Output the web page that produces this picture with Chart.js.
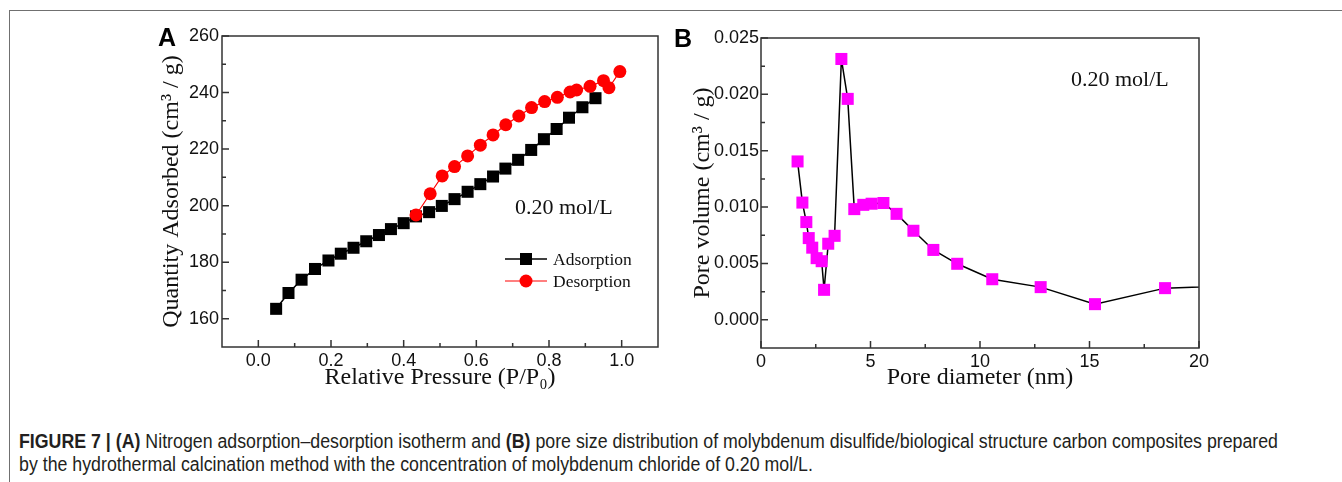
<!DOCTYPE html>
<html>
<head>
<meta charset="utf-8">
<script src="https://cdn.jsdelivr.net/npm/chart.js@4.4.1/dist/chart.umd.min.js"></script>
<style>
  html, body { margin: 0; padding: 0; background: #fff; }
  body { width: 1342px; height: 482px; position: relative; overflow: hidden; }
  .frame { position: absolute; left: 9px; top: 10px; width: 1400px; height: 500px;
           border-left: 1px solid #707070; border-top: 1px solid #707070; }
  canvas { position: absolute; top: 0; }
  #chartA { left: 140px; }
  #chartB { left: 680px; }
  .panel { position: absolute; font: bold 25px "Liberation Sans", Arial, sans-serif; color: #000; line-height: 25px; }
  .caption { position: absolute; left: 19px; top: 430px; font-size: 19.5px; line-height: 23px;
             font-family: "Liberation Sans Narrow", "Liberation Sans", sans-serif;
             color: #231f20; white-space: nowrap; transform-origin: 0 0; }
  .caption span { display: inline-block; }
</style>
</head>
<body>
<div class="frame"></div>
<canvas id="chartA" width="540" height="400"></canvas>
<canvas id="chartB" width="540" height="400"></canvas>
<div class="panel" style="left:158px; top:25px;">A</div>
<div class="panel" style="left:674px; top:26px;">B</div>
<div class="caption" id="caption">
  <span id="cap1"><b>FIGURE 7 | (A)</b> Nitrogen adsorption–desorption isotherm and <b>(B)</b> pore size distribution of molybdenum disulfide/biological structure carbon composites prepared</span><br>
  <span>by the hydrothermal calcination method with the concentration of molybdenum chloride of 0.20 mol/L.</span>
</div>
<script>
// ---- panel A: N2 adsorption / desorption isotherm ----
const adsP = [0.049, 0.083, 0.119, 0.156, 0.193, 0.227, 0.262, 0.297, 0.332, 0.365, 0.400, 0.434, 0.470,
              0.505, 0.540, 0.576, 0.611, 0.646, 0.680, 0.715, 0.751, 0.786, 0.821, 0.855, 0.892, 0.928];
const adsQ = [163.5, 169.1, 173.8, 177.6, 180.6, 183.0, 185.1, 187.4, 189.6, 191.7, 193.8, 196.2, 197.7,
              199.9, 202.3, 204.9, 207.6, 210.3, 213.1, 216.2, 219.7, 223.5, 227.1, 231.1, 234.8, 238.0];
const desP = [0.995, 0.965, 0.950, 0.913, 0.876, 0.858, 0.823, 0.788, 0.752, 0.717, 0.681, 0.646,
              0.611, 0.576, 0.540, 0.506, 0.473, 0.434];
const desQ = [247.4, 241.7, 244.2, 242.2, 240.9, 240.2, 238.3, 236.8, 234.7, 231.7, 228.6, 225.0,
              221.4, 217.6, 213.8, 210.5, 204.2, 196.7];
const xTicksA = [0, 0.2, 0.4, 0.6, 0.8, 1.0];
const yTicksA = [160, 180, 200, 220, 240, 260];

// ---- panel B: pore size distribution ----
const poreD = [1.67, 1.89, 2.07, 2.18, 2.34, 2.54, 2.77, 2.88, 3.07, 3.36, 3.67, 3.96, 4.26, 4.67,
               5.05, 5.59, 6.19, 6.96, 7.87, 8.96, 10.56, 12.77, 15.25, 18.45, 25.0];
const poreV = [0.01405, 0.0104, 0.00867, 0.00725, 0.0064, 0.00547, 0.0052, 0.00266, 0.00675, 0.00745,
               0.02314, 0.0196, 0.00982, 0.0102, 0.0103, 0.01036, 0.0094, 0.0079, 0.0062, 0.00497,
               0.0036, 0.0029, 0.00139, 0.00281, 0.0032];
const xTicksB = [0, 5, 10, 15, 20];
const yTicksB = [0, 0.005, 0.010, 0.015, 0.020, 0.025];

const SANS = '"Liberation Sans", Arial, sans-serif';
const SERIF = '"Liberation Serif", "Times New Roman", serif';
const INK = '#111';

// Origin-style box: full frame + inward major/minor ticks on bottom and left
const framePlugin = {
  id: 'frame',
  afterDatasetsDraw(chart) {
    const { ctx, chartArea: a, scales: { x, y } } = chart;
    ctx.save();
    ctx.strokeStyle = '#333';
    ctx.lineWidth = 1.5;
    const marks = (s, draw) => {
      const t = s.ticks.map(k => k.value);
      const step = t[1] - t[0];
      t.forEach(v => draw(s.getPixelForValue(v), 7));
      for (let v = t[0] - step / 2; v < s.max + 1e-9; v += step) {
        if (v > s.min + 1e-9 && v < s.max - 1e-9) draw(s.getPixelForValue(v), 4);
      }
    };
    ctx.beginPath();
    marks(x, (px, len) => { ctx.moveTo(px, a.bottom); ctx.lineTo(px, a.bottom - len); });
    marks(y, (py, len) => { ctx.moveTo(a.left, py); ctx.lineTo(a.left + len, py); });
    ctx.stroke();
    ctx.strokeRect(a.left, a.top, a.right - a.left, a.bottom - a.top);
    ctx.restore();
  }
};

// in-plot notes and the hand-placed Origin legend
const notePlugin = {
  id: 'note',
  afterDraw(chart, args, opts) {
    const { ctx } = chart;
    ctx.save();
    ctx.fillStyle = INK;
    ctx.textBaseline = 'middle';
    ctx.textAlign = 'left';
    ctx.font = `22px ${SERIF}`;
    ctx.fillText(opts.text, opts.x, opts.y);
    (opts.legend || []).forEach(item => {
      const ds = chart.data.datasets[item.dataset];
      ctx.strokeStyle = ds.borderColor;
      ctx.lineWidth = ds.borderWidth;
      ctx.beginPath();
      ctx.moveTo(item.x0, item.y);
      ctx.lineTo(item.x1, item.y);
      ctx.stroke();
      ctx.fillStyle = ds.pointBackgroundColor;
      Chart.helpers.drawPoint(ctx, { pointStyle: ds.pointStyle, radius: ds.pointRadius, rotation: 0, borderWidth: 0 },
        (item.x0 + item.x1) / 2, item.y);
      ctx.fillStyle = INK;
      ctx.font = `17.5px ${SERIF}`;
      ctx.fillText(ds.label, item.x1 + 6, item.y + 1);
    });
    ctx.restore();
  }
};

function axis(ticks, opts) {
  return {
    type: 'linear',
    min: opts.min,
    max: opts.max,
    grid: { display: false, drawTicks: false },
    border: { display: false },
    afterBuildTicks: s => { s.ticks = ticks.map(v => ({ value: v })); },
    afterFit: opts.fit,
    ticks: {
      padding: opts.pad,
      color: INK,
      font: { family: SANS, size: 18 },
      maxRotation: 0,
      autoSkip: false,
      callback: opts.fmt,
    },
    title: {
      display: true,
      text: opts.title,
      color: INK,
      font: { family: SERIF, size: 24 },
      padding: opts.titlePad,
    },
  };
}

const xy = (xs, ys) => xs.map((v, i) => ({ x: v, y: ys[i] }));

new Chart(document.getElementById('chartA'), {
  type: 'scatter',
  data: {
    datasets: [
      {
        label: 'Desorption',
        data: xy(desP, desQ),
        showLine: true,
        borderColor: '#ff0000',
        borderWidth: 1.2,
        pointStyle: 'circle',
        pointRadius: 6.5,
        pointBorderWidth: 0,
        pointBackgroundColor: '#ff0000',
        order: 0,
      },
      {
        label: 'Adsorption',
        data: xy(adsP, adsQ),
        showLine: true,
        borderColor: '#000000',
        borderWidth: 1.5,
        pointStyle: 'rect',
        pointRadius: 8.5,
        pointBorderWidth: 0,
        pointBackgroundColor: '#000000',
        order: 1,
      },
    ],
  },
  options: {
    responsive: false,
    animation: false,
    events: [],
    layout: { padding: { top: 36, right: 22, left: 0, bottom: 0 } },
    plugins: {
      legend: { display: false },
      tooltip: { enabled: false },
      note: {
        text: '0.20 mol/L', x: 375, y: 208,
        legend: [
          { dataset: 1, x0: 365, x1: 407, y: 259 },
          { dataset: 0, x0: 365, x1: 407, y: 281 },
        ],
      },
    },
    scales: {
      x: axis(xTicksA, {
        min: -0.1, max: 1.1, pad: 3, fmt: v => v.toFixed(1),
        title: 'Relative Pressure (P/P₀)', titlePad: { top: 0, bottom: 7.6 },
        fit: s => { s.height = 53; },
      }),
      y: axis(yTicksA, {
        min: 150, max: 260, pad: 3, fmt: v => String(v),
        title: 'Quantity Adsorbed (cm³ / g)', titlePad: { top: 17.3, bottom: 0 },
        fit: s => { s.width = 82; },
      }),
    },
  },
  plugins: [framePlugin, notePlugin],
});

new Chart(document.getElementById('chartB'), {
  type: 'scatter',
  data: {
    datasets: [
      {
        label: 'Pore volume',
        data: xy(poreD, poreV),
        showLine: true,
        clip: 0,
        borderColor: '#000000',
        borderWidth: 1.5,
        pointStyle: 'rect',
        pointRadius: 8.5,
        pointBorderWidth: 0,
        pointBackgroundColor: '#ff00ff',
      },
    ],
  },
  options: {
    responsive: false,
    animation: false,
    events: [],
    layout: { padding: { top: 38, right: 21, left: 0, bottom: 0 } },
    plugins: {
      legend: { display: false },
      tooltip: { enabled: false },
      note: { text: '0.20 mol/L', x: 391, y: 80 },
    },
    scales: {
      x: axis(xTicksB, {
        min: 0, max: 20, pad: 3, fmt: v => String(v),
        title: 'Pore diameter (nm)', titlePad: { top: 0, bottom: 7.6 },
        fit: s => { s.height = 52; },
      }),
      y: axis(yTicksB, {
        min: -0.0025, max: 0.025, pad: 2, fmt: v => v.toFixed(3),
        title: 'Pore volume (cm³ / g)', titlePad: { top: 8.4, bottom: 0 },
        fit: s => { s.width = 81; },
      }),
    },
  },
  plugins: [framePlugin, notePlugin],
});

// stretch the caption so its first line spans the same width as the original
const cap = document.getElementById('caption');
const w1 = document.getElementById('cap1').getBoundingClientRect().width;
cap.style.transform = `scaleX(${1259 / w1})`;
</script>
</body>
</html>
